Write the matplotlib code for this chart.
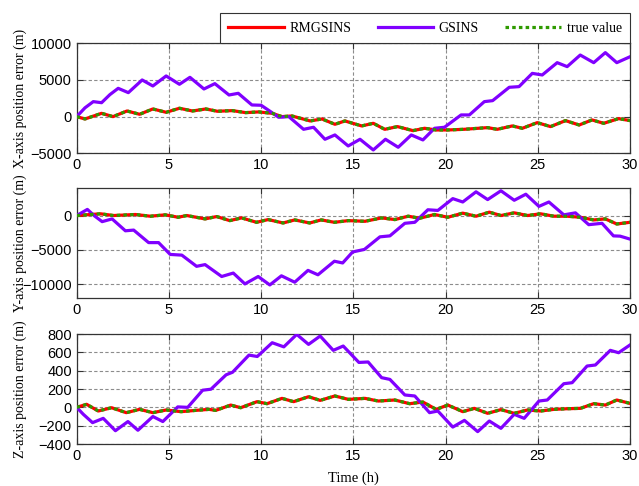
import numpy as np
import matplotlib
matplotlib.use("Agg")
import matplotlib.pyplot as plt

# position errors over 30 h, read at peaks / troughs of the Schuler ripple
# X-axis
t_x_gs = [0, 0.45, 0.9, 1.35, 1.8, 2.25, 2.8, 3.55, 4.13, 4.85, 5.57, 6.14, 6.9, 7.49, 8.26, 8.76,
          9.5, 10.0, 10.5, 10.95, 11.5, 12.3, 12.84, 13.46, 14.0, 14.72, 15.36, 16.08, 16.74, 17.43,
          18.14, 18.77, 19.4, 19.94, 20.84, 21.29, 22.1, 22.55, 23.45, 23.98, 24.7, 25.24, 26.05,
          26.59, 27.3, 28.03, 28.66, 29.28, 30.0]
x_gs = [0, 1200, 2045, 1900, 3000, 3860, 3270, 5000, 4180, 5545, 4410, 5360, 3770, 4500, 2950, 3180,
        1590, 1550, 700, -90, 0, -1730, -1450, -3090, -2500, -4000, -3090, -4545, -3090, -4180,
        -2500, -3180, -1590, -1450, 230, 230, 2045, 2180, 4000, 4090, 5900, 5680, 7360,
        6820, 8400, 7360, 8730, 7360, 8170]
t_x_rmg = [0, 0.45, 1.35, 1.97, 2.73, 3.41, 4.13, 4.85, 5.57, 6.28, 7.0, 7.63, 8.44, 9.16, 9.87,
           10.6, 11.13, 11.67, 12.66, 13.3, 14.0, 14.54, 15.45, 16.08, 16.7, 17.39, 18.23, 18.86,
           19.49, 20.12, 21.0, 22.27, 22.8, 23.62, 24.16, 24.97, 25.69, 26.5, 27.24, 27.94, 28.57,
           29.38, 30.0]
x_rmg = [0, -320, 450, 0, 770, 320, 1045, 590, 1140, 770, 1045, 730, 820, 545, 640,
         450, 0, 90, -590, -320, -1045, -590, -1270, -910, -1730, -1360, -1910, -1590,
         -1820, -1820, -1730, -1500, -1730, -1270, -1590, -820, -1360, -545, -1140, -450, -910,
         -270, -545]

# Y-axis
t_y_gs = [0, 0.58, 0.94, 1.38, 1.92, 2.64, 3.09, 3.9, 4.44, 5.07, 5.7, 6.5, 6.96, 7.86, 8.49, 9.12,
          9.84, 10.47, 11.1, 11.82, 12.54, 13.08, 13.97, 14.42, 14.96, 15.6, 16.44, 16.98, 17.79,
          18.33, 19.04, 19.58, 20.39, 20.93, 21.65, 22.28, 23.0, 23.72, 24.35, 25.06, 25.6, 26.41,
          27.04, 27.76, 28.48, 29.1, 29.46, 30.0]
y_gs = [0, 890, 0, -890, -490, -2220, -2120, -3940, -3940, -5660, -5760, -7390, -7140, -8870, -8370,
        -9950, -8870, -10100, -8770, -9700, -7980, -8620, -6650, -6900, -5300, -4930, -3100, -2960,
        -1130, -985, 840, 740, 2460, 1970, 3450, 2320, 3600, 2220, 3100, 1330, 1970, 100,
        390, -1330, -1130, -2960, -3000, -3430]
t_y_rmg = [0, 0.76, 1.3, 2.0, 3.18, 3.99, 4.8, 5.5, 5.97, 6.96, 7.59, 8.3, 8.94, 9.75, 10.38, 11.19,
           11.82, 12.63, 13.26, 13.97, 14.73, 15.63, 16.53, 17.25, 17.97, 18.6, 19.4, 20.12, 20.93,
           21.65, 22.37, 23.0, 23.72, 24.44, 25.15, 25.87, 26.59, 27.31, 28.03, 28.66, 29.28, 30.0]
y_rmg = [0, 150, 250, 0, 150, -100, 100, -250, 0, -490, -150, -740, -345, -985, -590, -1080,
         -640, -1080, -640, -985, -740, -840, -345, -590, -100, -390, 150, -250, 345,
         -100, 490, 0, 390, 0, 250, -100, -100, -250, -640, -490, -1230, -985]

# Z-axis
t_z_gs = [0, 0.36, 0.86, 1.44, 2.1, 2.78, 3.32, 4.13, 4.67, 5.48, 6.02, 6.83, 7.28, 8.1, 8.45, 9.34,
          9.79, 10.6, 11.23, 11.93, 12.57, 13.2, 13.91, 14.45, 15.3, 15.8, 16.53, 16.98, 17.79,
          18.33, 19.13, 19.58, 20.39, 21.02, 21.74, 22.37, 23.0, 23.72, 24.26, 25.06, 25.51, 26.41,
          26.86, 27.67, 28.12, 28.93, 29.38, 30.0]
z_gs = [0, -76, -167, -120, -255, -155, -250, -100, -155, 5, 0, 187, 198, 355, 383, 570,
        555, 705, 660, 796, 687, 778, 622, 669, 490, 495, 324, 305, 135,
        124, -58, -40, -215, -142, -265, -149, -229, -76, -120, 69, 80, 258,
        269, 451, 462, 622, 596, 681]
t_z_rmg = [0, 0.54, 1.17, 1.89, 2.69, 3.41, 4.13, 4.85, 5.66, 6.46, 7.18, 7.54, 8.35, 8.89, 9.78,
           10.32, 11.13, 11.76, 12.57, 13.2, 14.0, 14.73, 15.63, 16.35, 17.25, 18.05, 18.77, 19.49,
           20.12, 20.93, 21.56, 22.28, 23.0, 23.72, 24.44, 25.15, 25.87, 26.59, 27.31, 28.03, 28.66,
           29.28, 30.0]
z_rmg = [0, 33, -40, -4, -58, -22, -58, -29, -47, -33, -22, -33, 25, -4, 62,
         40, 98, 62, 116, 76, 124, 87, 98, 69, 80, 40, 58, -22,
         25, -47, -11, -65, -25, -65, -29, -40, -22, -15, -11, 40, 25,
         80, 43]

# true value coincides with the RMGSINS solution
x_true, y_true, z_true = x_rmg, y_rmg, z_rmg

ylabels = ["X-axis position error (m)", "Y-axis position error (m)", "Z-axis position error (m)"]
ylims = [(-5000, 10000), (-12000, 4000), (-400, 800)]
yticks = [[-5000, 0, 5000, 10000], [-10000, -5000, 0], [-400, -200, 0, 200, 400, 600, 800]]

serif = "Liberation Serif"
sans = "Liberation Sans"
c_red = "#ff0000"
c_purple = "#8000ff"
c_green = "#2f9a00"

fig = plt.figure(figsize=(6.39, 4.86), dpi=100)
bottoms = [0.6846, 0.3868, 0.0864]
axes = [fig.add_axes([0.120, b, 0.866, 0.2263]) for b in bottoms]

data = [(t_x_rmg, x_rmg, t_x_gs, x_gs, x_true),
        (t_y_rmg, y_rmg, t_y_gs, y_gs, y_true),
        (t_z_rmg, z_rmg, t_z_gs, z_gs, z_true)]

for ax, (tr, vr, tg, vg, vt), lab, yl, yt in zip(axes, data, ylabels, ylims, yticks):
    ax.plot(tr, vr, color=c_red, lw=2.3, label="RMGSINS", zorder=3)
    ax.plot(tg, vg, color=c_purple, lw=2.3, label="GSINS", zorder=3)
    ax.plot(tr, vt, color=c_green, lw=2.3, ls=(0, (1.1, 1.0)), label="true value", zorder=4)
    ax.set_xlim(0, 30)
    ax.set_ylim(*yl)
    ax.set_xticks([0, 5, 10, 15, 20, 25, 30])
    ax.set_yticks(yt)
    ax.grid(True, color="0.55", ls=(0, (3, 2)), lw=0.8)
    ax.tick_params(direction="in", top=True, right=True, length=4, width=0.8, colors="0.2",
                   labelcolor="black", labelsize=10.5)
    for lbl in ax.get_xticklabels() + ax.get_yticklabels():
        lbl.set_fontfamily(sans)
    for s in ax.spines.values():
        s.set_color("0.2")
        s.set_linewidth(0.9)
    ax.set_ylabel(lab, fontfamily=serif, fontsize=10)
    ax.yaxis.set_label_coords(-0.09, 0.5)

axes[2].set_xlabel("Time (h)", fontfamily=serif, fontsize=10.5, labelpad=6)

h, l = axes[0].get_legend_handles_labels()
leg = fig.legend(h, l, loc="lower right", bbox_to_anchor=(0.986, 0.9115), ncol=3,
                 prop={"family": serif, "size": 10}, handlelength=4.0, handletextpad=0.4,
                 columnspacing=1.9, borderpad=0.6, fancybox=False, framealpha=1,
                 edgecolor="0.2", borderaxespad=0)
leg.get_frame().set_linewidth(0.8)

fig.savefig("out.png", dpi=100)
